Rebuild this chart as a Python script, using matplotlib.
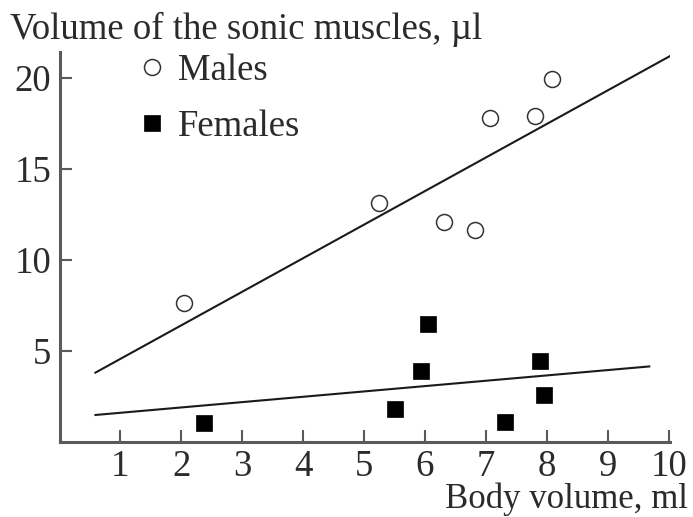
import matplotlib
matplotlib.use("Agg")
import matplotlib.pyplot as plt
import numpy as np

# Body volume (ml) and sonic muscle volume (µl)
males_x = [2.04, 5.24, 6.31, 6.82, 7.07, 7.80, 8.08]
males_y = [7.65, 13.1, 12.05, 11.65, 17.8, 17.9, 19.9]
females_x = [2.37, 5.51, 5.93, 6.05, 7.32, 7.89, 7.96]
females_y = [1.05, 1.8, 3.9, 6.5, 1.1, 4.45, 2.6]

# Regression lines: slope, intercept and x-range
males_fit = (1.842, 2.72)
males_fit_range = (0.59, 10.12)
females_fit = (0.293, 1.31)
females_fit_range = (0.59, 9.68)

x_ticks = [1, 2, 3, 4, 5, 6, 7, 8, 9, 10]
y_ticks = [5, 10, 15, 20]

plt.rcParams["font.family"] = ["Liberation Serif", "DejaVu Serif"]
text_color = "#2b2b2b"
axis_color = "#5a5a5a"
fs = 26.5

fig = plt.figure(figsize=(6.93, 5.17), dpi=100)
ax = fig.add_axes([59.5 / 693, 1 - 442 / 517, (670 - 59.5) / 693, (442 - 52) / 517])

for (slope, icpt), (x0, x1) in [(males_fit, males_fit_range), (females_fit, females_fit_range)]:
    xs = np.array([x0, x1])
    ax.plot(xs, slope * xs + icpt, color="#1a1a1a", lw=1.5, zorder=2)

ax.plot(males_x, males_y, ls="none", marker="o", ms=11.5, mfc="white",
        mec="#333333", mew=1.1, label="Males", zorder=3)
ax.plot(females_x, females_y, ls="none", marker="s", ms=11, mfc="black",
        mec="black", mew=0.5, label="Females", zorder=3)

ax.set_xlim(0, 10.02)
ax.set_ylim(0, 21.4)
ax.set_xticks(x_ticks)
ax.set_yticks(y_ticks)
ax.set_xticklabels([str(t) for t in x_ticks])
ax.set_yticklabels([str(t) for t in y_ticks])

for side in ("top", "right"):
    ax.spines[side].set_visible(False)
for side in ("left", "bottom"):
    ax.spines[side].set_color(axis_color)
    ax.spines[side].set_linewidth(2.2)

ax.tick_params(axis="both", direction="in", length=8.5, width=1.5,
               color=axis_color, labelsize=fs, labelcolor=text_color)
ax.tick_params(axis="x", pad=5.5)
ax.tick_params(axis="y", pad=6)

leg = ax.legend(loc="upper left", bbox_to_anchor=(143 / 693, 1 - 53 / 517),
                bbox_transform=fig.transFigure, frameon=False, fontsize=fs,
                handlelength=0.5, handletextpad=0.45, labelspacing=0.6,
                borderpad=0, borderaxespad=0, labelcolor=text_color)

fig.text(10 / 693, 1 - 39 / 517, "Volume of the sonic muscles, µl",
         fontsize=fs, color=text_color, ha="left", va="baseline")
fig.text(688 / 693, 1 - 508 / 517, "Body volume, ml",
         fontsize=25, color=text_color, ha="right", va="baseline")

fig.savefig("out.png", dpi=100)
